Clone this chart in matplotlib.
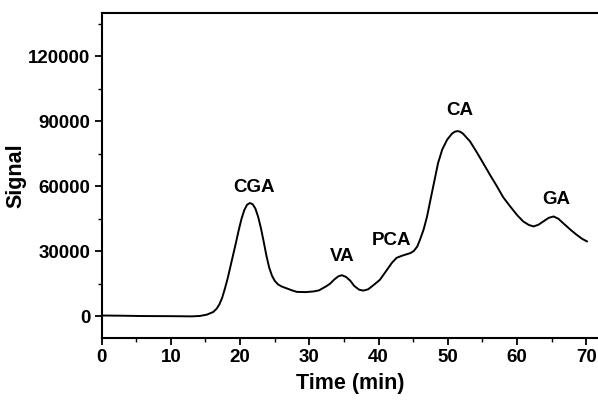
import matplotlib
matplotlib.use("Agg")
import matplotlib.pyplot as plt
from matplotlib.ticker import MultipleLocator

plt.rcParams['font.family'] = ['Liberation Sans', 'DejaVu Sans']
plt.rcParams['font.weight'] = 'bold'

time_min = [0, 3, 6, 10, 13, 14.2, 15.2, 16.1, 16.6, 17.0, 17.4, 17.8, 18.2, 18.6,
            19.0, 19.4, 19.8, 20.2, 20.6, 21.0, 21.4, 21.8, 22.2, 22.6, 23.0, 23.4,
            23.8, 24.2, 24.6, 25.0, 25.5, 26.0, 26.5,
            27.5, 28.2, 29.5, 30.6, 31.4, 32.0, 32.5, 33.0, 33.6, 34.2, 34.7, 35.3,
            35.9, 36.5, 37.2, 37.8, 38.5, 39.3, 40.2, 41.0, 41.9, 42.6, 43.4, 44.0,
            44.6, 45.1, 45.6, 46.0, 46.5, 47.0, 47.4, 47.9, 48.6, 49.2, 49.9, 50.6,
            51.0, 51.4, 51.8, 52.2, 53.2, 54.1, 55.1, 56.1, 57.1, 58.0, 59.0, 60.0, 60.9, 61.7,
            62.4, 63.1, 63.8, 64.6, 65.3, 66.0, 66.6, 67.2, 67.9, 68.6, 69.4, 70.1]
signal = [400, 300, 150, 100, 0, 200, 800, 2000, 3500, 5500, 8500, 12800, 17500, 23000,
          28500, 34000, 39800, 45000, 49000, 51500, 52300, 51800, 49800, 46000, 40800, 34600,
          28000, 22500, 18800, 16400, 14700, 13800, 13200,
          12000, 11300, 11200, 11500, 12000, 13100, 14000, 15100, 17000, 18500, 19000, 18200,
          16500, 14000, 12300, 11900, 12500, 14500, 16900, 20500, 24600, 27000, 28000, 28600,
          29200, 30200, 32300, 35500, 40000, 46000, 52300, 60000, 70800, 77000, 81500, 84300,
          85200, 85500, 85200, 84300, 80800, 76200, 70800, 65300, 60000, 55000, 50800, 46800, 43800, 42200,
          41500, 42300, 43800, 45500, 46100, 45000, 43200, 41500, 39500, 37700, 35800, 34600]

peak_names = ["CGA", "VA", "PCA", "CA", "GA"]
peak_label_x = [22.0, 34.7, 41.9, 51.7, 65.6]
peak_label_y = [59400, 27700, 35100, 95000, 53900]

fig = plt.figure(figsize=(5.98, 4.01), dpi=100)
ax = fig.add_axes([0.170, 0.157, 0.830, 0.8106])
ax.plot(time_min, signal, color='black', lw=1.4, solid_joinstyle='round')

for name, lx, ly in zip(peak_names, peak_label_x, peak_label_y):
    ax.text(lx, ly, name, ha='center', va='center', fontsize=13.5, fontweight='bold')

ax.set_xlim(0, 71.7)
ax.set_ylim(-10000, 140000)
ax.xaxis.set_major_locator(MultipleLocator(10))
ax.xaxis.set_minor_locator(MultipleLocator(5))
ax.yaxis.set_major_locator(MultipleLocator(30000))
ax.yaxis.set_minor_locator(MultipleLocator(15000))
ax.spines['right'].set_visible(False)
for s in ['left', 'bottom', 'top']:
    ax.spines[s].set_linewidth(1.5)
ax.tick_params(which='major', direction='out', length=5, width=1.3, labelsize=13.5, pad=3)
ax.tick_params(which='minor', direction='out', length=3, width=1.0)
ax.tick_params(top=False, which='both')
for lab in ax.get_xticklabels() + ax.get_yticklabels():
    lab.set_fontweight('bold')
ax.set_xlabel("Time (min)", fontsize=15.5, fontweight='bold', labelpad=5)
ax.set_ylabel("Signal", fontsize=15.5, fontweight='bold', labelpad=1)

fig.savefig("out.png", dpi=100)
